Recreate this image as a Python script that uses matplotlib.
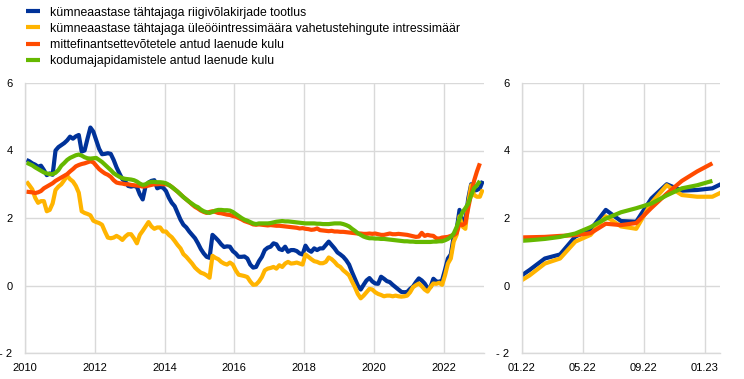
import numpy as np
import matplotlib
matplotlib.use("Agg")
import matplotlib.pyplot as plt

plt.rcParams['font.family'] = ['Liberation Sans', 'DejaVu Sans']
plt.rcParams['axes.unicode_minus'] = False

# monthly values, Jan 2010 onwards
gov_yield = [
    3.72, 3.68, 3.62, 3.58, 3.52, 3.55, 3.42, 3.27, 3.32, 3.28, 4.00, 4.10,
    4.16, 4.22, 4.30, 4.41, 4.35, 4.42, 4.46, 3.97, 4.00, 4.35, 4.68, 4.56,
    4.30, 4.05, 3.89, 3.90, 3.92, 3.90, 3.72, 3.50, 3.32, 3.15, 3.08, 2.95,
    2.93, 2.95, 2.92, 2.70, 2.55, 2.95, 3.05, 3.10, 3.12, 2.88, 2.92, 2.90,
    2.80, 2.60, 2.45, 2.35, 2.15, 1.95, 1.80, 1.72, 1.60, 1.50, 1.40, 1.25,
    1.08, 0.95, 0.85, 0.82, 1.50, 1.42, 1.33, 1.22, 1.14, 1.16, 1.15, 1.02,
    0.95, 0.85, 0.85, 0.86, 0.80, 0.62, 0.53, 0.55, 0.72, 0.85, 1.05, 1.12,
    1.15, 1.25, 1.22, 1.08, 1.05, 1.15, 1.00, 1.05, 1.05, 1.02, 0.95, 0.92,
    1.18, 1.05, 1.00, 1.10, 1.05, 1.10, 1.10, 1.20, 1.30, 1.20, 1.10, 0.98,
    0.92, 0.85, 0.75, 0.62, 0.40, 0.20, 0.00, -0.12, 0.02, 0.15, 0.22, 0.12,
    0.06, 0.05, 0.26, 0.20, 0.13, 0.10, 0.02, -0.05, -0.12, -0.19, -0.20, -0.19,
    -0.10, -0.03, 0.10, 0.21, 0.15, 0.06, -0.08, -0.05, 0.20, 0.12, 0.11, 0.15,
    0.46, 0.80, 0.92, 1.45, 1.65, 2.24, 1.91, 1.89, 2.58, 3.00, 2.81, 2.83,
    2.88, 3.10,
]
ois_rate = [
    3.08, 2.97, 2.85, 2.60, 2.45, 2.50, 2.50, 2.20, 2.24, 2.43, 2.83, 2.93,
    3.00, 3.12, 3.25, 3.15, 3.08, 2.95, 2.75, 2.20, 2.15, 2.12, 2.08, 1.92,
    1.88, 1.85, 1.80, 1.60, 1.42, 1.40, 1.42, 1.47, 1.42, 1.35, 1.45, 1.52,
    1.52, 1.40, 1.25, 1.50, 1.62, 1.75, 1.88, 1.75, 1.68, 1.72, 1.72, 1.60,
    1.60, 1.50, 1.43, 1.32, 1.20, 1.10, 0.93, 0.85, 0.75, 0.65, 0.53, 0.45,
    0.38, 0.35, 0.30, 0.23, 0.88, 0.82, 0.78, 0.70, 0.65, 0.62, 0.68, 0.62,
    0.45, 0.32, 0.30, 0.28, 0.25, 0.12, 0.02, 0.03, 0.12, 0.25, 0.45, 0.50,
    0.52, 0.55, 0.50, 0.60, 0.55, 0.65, 0.70, 0.65, 0.66, 0.68, 0.65, 0.62,
    0.92, 0.85, 0.78, 0.72, 0.70, 0.66, 0.66, 0.70, 0.83, 0.78, 0.70, 0.60,
    0.55, 0.45, 0.38, 0.30, 0.12, -0.05, -0.25, -0.38, -0.30, -0.20, -0.10, -0.12,
    -0.20, -0.25, -0.28, -0.32, -0.30, -0.30, -0.32, -0.30, -0.32, -0.33, -0.32, -0.30,
    -0.20, -0.05, 0.01, 0.06, -0.02, -0.12, -0.18, -0.05, 0.06, 0.05, 0.08, 0.02,
    0.30, 0.65, 0.80, 1.30, 1.50, 2.05, 1.75, 1.68, 2.45, 2.97, 2.68, 2.63,
    2.63, 2.85,
]
nfc_cost = [
    2.78, 2.77, 2.76, 2.74, 2.76, 2.80, 2.88, 2.93, 2.98, 3.03, 3.10, 3.15,
    3.20, 3.25, 3.30, 3.38, 3.45, 3.53, 3.57, 3.60, 3.62, 3.65, 3.68, 3.65,
    3.55, 3.45, 3.38, 3.32, 3.28, 3.22, 3.12, 3.05, 3.03, 3.02, 3.00, 3.00,
    2.98, 2.97, 2.96, 2.95, 2.93, 2.94, 2.96, 2.98, 3.00, 3.00, 3.01, 3.00,
    3.00, 2.98, 2.92, 2.85, 2.78, 2.70, 2.62, 2.55, 2.48, 2.40, 2.33, 2.28,
    2.22, 2.18, 2.15, 2.18, 2.20, 2.18, 2.15, 2.14, 2.12, 2.10, 2.09, 2.06,
    2.04, 2.00, 1.96, 1.91, 1.88, 1.85, 1.81, 1.80, 1.81, 1.80, 1.79, 1.78,
    1.79, 1.78, 1.77, 1.77, 1.76, 1.75, 1.74, 1.73, 1.72, 1.71, 1.69, 1.70,
    1.68, 1.67, 1.65, 1.66, 1.69, 1.64, 1.63, 1.62, 1.61, 1.62, 1.60, 1.60,
    1.59, 1.59, 1.58, 1.57, 1.56, 1.55, 1.54, 1.54, 1.53, 1.53, 1.54, 1.53,
    1.54, 1.52, 1.50, 1.50, 1.52, 1.54, 1.52, 1.52, 1.53, 1.52, 1.51, 1.50,
    1.48, 1.46, 1.44, 1.45, 1.56, 1.47, 1.50, 1.48, 1.47, 1.40, 1.39, 1.42,
    1.43, 1.44, 1.47, 1.49, 1.55, 1.83, 1.79, 1.85, 2.30, 2.72, 3.10, 3.38,
    3.62,
]
hh_cost = [
    3.64, 3.60, 3.56, 3.50, 3.45, 3.40, 3.35, 3.32, 3.30, 3.30, 3.34, 3.42,
    3.55, 3.63, 3.72, 3.78, 3.82, 3.86, 3.88, 3.85, 3.80, 3.77, 3.76, 3.77,
    3.78, 3.72, 3.66, 3.58, 3.50, 3.42, 3.33, 3.27, 3.22, 3.18, 3.16, 3.15,
    3.14, 3.12, 3.08, 3.02, 2.98, 3.00, 3.05, 3.07, 3.07, 3.06, 3.06, 3.05,
    3.03, 2.98, 2.92, 2.85, 2.78, 2.70, 2.62, 2.55, 2.48, 2.42, 2.36, 2.32,
    2.25, 2.20, 2.17, 2.15, 2.18, 2.22, 2.24, 2.24, 2.23, 2.23, 2.22, 2.18,
    2.12, 2.06, 2.00, 1.95, 1.92, 1.88, 1.84, 1.82, 1.84, 1.84, 1.84, 1.84,
    1.85, 1.87, 1.89, 1.90, 1.91, 1.90, 1.90, 1.89, 1.88, 1.87, 1.86, 1.85,
    1.84, 1.84, 1.84, 1.84, 1.83, 1.83, 1.82, 1.82, 1.82, 1.83, 1.84, 1.84,
    1.84, 1.82, 1.79, 1.75, 1.68, 1.62, 1.55, 1.50, 1.45, 1.42, 1.40, 1.40,
    1.39, 1.39, 1.38, 1.38, 1.37, 1.36, 1.35, 1.34, 1.33, 1.32, 1.31, 1.31,
    1.30, 1.30, 1.29, 1.29, 1.29, 1.29, 1.29, 1.29, 1.30, 1.30, 1.31, 1.31,
    1.34, 1.38, 1.44, 1.54, 1.73, 1.98, 2.17, 2.29, 2.43, 2.67, 2.88, 2.97,
    3.10,
]

labels = [
    "kümneaastase tähtajaga riigivõlakirjade tootlus",
    "kümneaastase tähtajaga üleööintressimäära vahetustehingute intressimäär",
    "mittefinantsettevõtetele antud laenude kulu",
    "kodumajapidamistele antud laenude kulu",
]
colors = ["#003299", "#FFB400", "#FF4B00", "#65B800"]
series = [gov_yield, ois_rate, nfc_cost, hh_cost]

left_ticks = [2010, 2012, 2014, 2016, 2018, 2020, 2022]
right_ticks = ["01.22", "05.22", "09.22", "01.23"]
zoom_start = 143  # Dec 2021, month index

fig = plt.figure(figsize=(7.44, 3.79), dpi=100)
ax1 = fig.add_axes([25 / 744, 26 / 379, 459 / 744, 270 / 379])
ax2 = fig.add_axes([522 / 744, 26 / 379, 198 / 744, 270 / 379])

for s, c, lab in zip(series, colors, labels):
    m = np.arange(len(s))
    ax1.plot(2010 + (m + 0.5) / 12, s, color=c, lw=3, label=lab,
             solid_capstyle='butt', solid_joinstyle='round')
    sub = np.array(s[zoom_start:])
    ax2.plot(np.arange(len(sub)) - 0.5, sub, color=c, lw=3,
             solid_capstyle='butt', solid_joinstyle='round')

ax1.set_xlim(2010, 2023.16)
ax1.set_xticks(left_ticks)
ax1.set_xticklabels([str(t) for t in left_ticks])
ax2.set_xlim(0, 13)
ax2.set_xticks([0, 4, 8, 12])
ax2.set_xticklabels(right_ticks)

for ax in (ax1, ax2):
    ax.set_ylim(-2, 6)
    ax.set_yticks([-2, 0, 2, 4, 6])
    ax.set_yticklabels(["- 2", "0", "2", "4", "6"])
    ax.grid(True, color="#d9d9d9", lw=1)
    ax.set_axisbelow(True)
    for side in ("top", "right"):
        ax.spines[side].set_visible(False)
    for side in ("left", "bottom"):
        ax.spines[side].set_color("#d9d9d9")
        ax.spines[side].set_linewidth(1)
    ax.tick_params(length=0, labelsize=8, pad=7, colors="black")
    ax.tick_params(axis="y", pad=9)

fig.legend(loc="upper left", bbox_to_anchor=(19 / 744, 1.0), frameon=False,
           fontsize=8.8, handlelength=1.2, handletextpad=0.75,
           labelspacing=0.33, borderaxespad=0.15)

fig.savefig("out.png", dpi=100)
